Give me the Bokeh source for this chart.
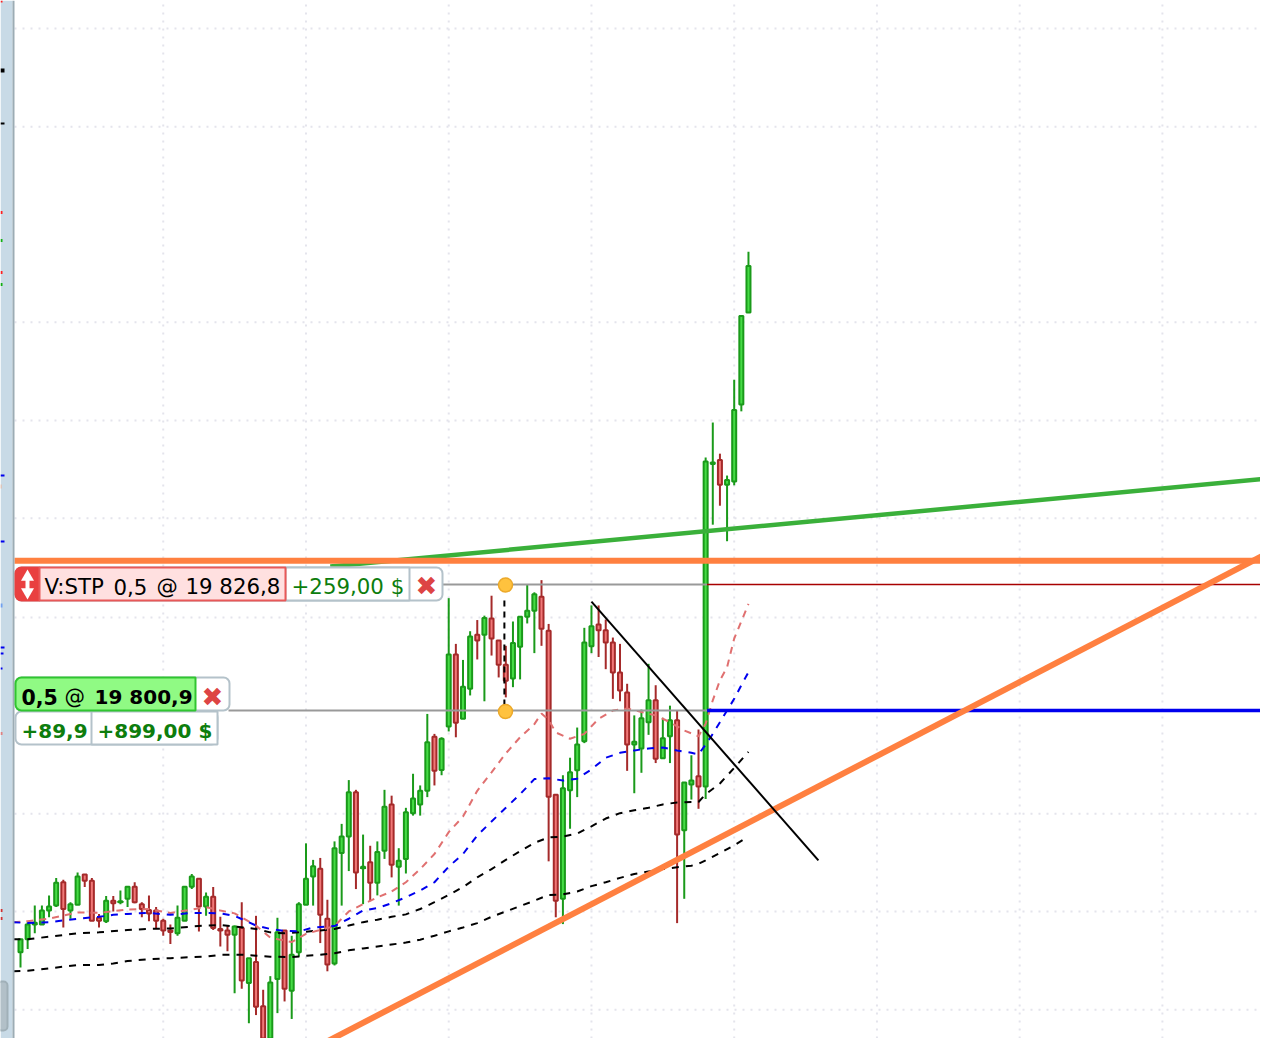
from bokeh.plotting import figure
from bokeh.models import Range1d, BoxAnnotation, Label
from bokeh.embed import file_html
from bokeh.resources import INLINE

# ---------- candles: bar number 0..102, prices ----------
opens = [19751.2,19753.9,19756.9,19756.9,19759.8,19760.8,19765.6,19759.8,19761.0,19767.2,
         19765.9,19758.3,19757.6,19761.8,19761.5,19762.2,19764.7,19761.1,19759.9,19759.8,
         19757.7,19755.7,19755.1,19757.7,19764.7,19766.3,19760.6,19762.6,19756.0,19755.7,
         19754.8,19756.2,19744.9,19749.2,19740.1,19733.1,19745.7,19755.7,19743.3,19751.2,
         19761.0,19766.8,19768.4,19758.1,19748.9,19771.6,19775.0,19784.1,19768.5,19769.7,
         19765.5,19772.1,19781.6,19768.8,19770.4,19779.8,19781.6,19784.4,19795.5,19788.7,
         19797.6,19812.4,19799.2,19805.4,19816.5,19816.5,19819.8,19815.3,19810.3,19807.5,
         19814.0,19820.2,19821.4,19824.3,19817.3,19783.6,19762.2,19784.5,19788.6,19794.6,
         19814.1,19818.6,19817.4,19814.9,19808.7,19804.6,19793.9,19793.1,19798.5,19803.0,
         19791.1,19795.6,19798.9,19776.3,19785.7,19787.4,19785.3,19851.6,19852.4,19847.3,
         19848.0,19863.8,19882.7]
highs = [19753.9,19757.4,19760.8,19760.8,19762.9,19766.5,19766.1,19761.5,19767.6,19767.2,
         19766.5,19759.1,19762.8,19762.8,19763.9,19764.7,19765.6,19761.5,19762.9,19760.5,
         19758.1,19756.9,19760.8,19764.7,19767.3,19766.3,19763.5,19764.6,19758.5,19756.7,
         19756.7,19761.5,19750.0,19758.7,19743.5,19746.3,19758.3,19755.7,19754.6,19761.5,
         19773.6,19770.2,19770.6,19762.0,19774.0,19777.6,19786.6,19784.6,19775.4,19773.1,
         19774.0,19784.6,19783.4,19772.6,19780.9,19787.9,19785.5,19800.2,19796.1,19795.4,
         19824.0,19814.6,19811.3,19817.2,19819.5,19820.4,19824.5,19815.3,19814.2,19819.2,
         19820.2,19826.9,19825.2,19827.7,19818.7,19783.6,19787.6,19791.2,19797.4,19817.9,
         19822.5,19822.5,19819.6,19815.9,19814.6,19806.4,19799.9,19801.1,19810.5,19806.1,
         19799.4,19801.9,19800.9,19786.1,19791.7,19797.0,19852.9,19860.1,19853.7,19849.2,
         19868.9,19882.0,19895.2]
lows = [19748.1,19751.9,19755.1,19756.9,19758.4,19760.5,19756.3,19758.1,19761.0,19764.6,
        19757.7,19756.3,19757.2,19759.6,19761.1,19760.5,19761.3,19758.4,19757.6,19756.0,
        19754.6,19752.9,19754.6,19757.7,19764.2,19755.5,19758.7,19755.8,19752.4,19751.4,
        19742.8,19743.7,19736.6,19738.3,19731.0,19731.0,19738.7,19741.1,19737.5,19750.3,
        19761.0,19760.8,19753.1,19747.3,19748.5,19760.8,19767.9,19764.2,19761.1,19761.7,
        19762.9,19770.4,19766.6,19760.8,19767.4,19779.3,19779.3,19783.1,19785.5,19787.6,
        19796.6,19795.4,19799.2,19804.0,19811.4,19802.8,19812.2,19807.7,19803.6,19805.7,
        19807.3,19818.8,19812.7,19814.2,19769.9,19758.4,19757.0,19776.6,19783.1,19794.2,
        19812.7,19811.9,19809.4,19803.3,19802.8,19788.5,19783.9,19788.1,19795.9,19790.1,
        19791.0,19790.1,19757.2,19762.2,19782.6,19780.7,19782.7,19839.1,19843.0,19835.7,
        19847.2,19862.4,19882.7]
closes = [19753.9,19756.9,19757.3,19759.8,19760.6,19765.5,19760.1,19761.1,19766.8,19765.9,
          19757.7,19757.7,19761.8,19761.3,19761.7,19764.7,19761.5,19760.1,19759.2,19757.7,
          19755.7,19755.4,19758.3,19764.7,19766.8,19760.6,19762.6,19756.2,19755.7,19754.8,
          19756.5,19745.4,19750.0,19740.0,19733.4,19745.0,19755.3,19743.7,19750.7,19761.1,
          19766.3,19768.9,19758.9,19748.7,19772.6,19775.0,19784.1,19767.6,19768.8,19765.5,
          19771.8,19781.1,19769.2,19770.0,19780.0,19782.8,19784.4,19794.4,19788.5,19795.1,
          19812.4,19798.4,19805.8,19816.1,19815.3,19819.9,19815.7,19810.3,19807.0,19814.8,
          19820.2,19821.4,19824.8,19817.7,19783.2,19761.8,19784.9,19788.2,19793.9,19814.9,
          19818.2,19817.4,19814.9,19808.7,19805.0,19793.9,19794.5,19799.3,19803.0,19791.0,
          19795.2,19798.9,19775.4,19786.1,19786.5,19785.3,19852.1,19851.9,19847.3,19848.3,
          19862.7,19882.0,19892.3]

# ---------- moving averages: bar number and price at that bar ----------
ma_red_bars = [-1,1,4,8,11,15,18,21,24,26,28,30,33,35,38,40,42,44,46,48,50,52,54,56,58,60,62,64,66,68,70,72,73,74,75,77,79,81,83,85,87,89,91,93,95,96,97,98,99,100,102]
ma_red = [19757.4,19757.6,19758.1,19759.4,19759.3,19760.0,19760.1,19759.3,19760.0,19760.5,19759.8,19759.2,19756.7,19754.2,19753.3,19755.0,19755.8,19756.6,19759.6,19761.1,19762.5,19763.7,19765.6,19768.3,19771.4,19775.9,19779.1,19784.4,19788.2,19792.1,19795.4,19798.1,19800.3,19799.0,19796.4,19795.1,19796.1,19799.2,19800.9,19801.3,19800.6,19799.9,19798.5,19796.8,19795.6,19798.2,19803.0,19807.1,19809.8,19815.7,19822.8]
ma_blue_bars = [-1,1,4,8,11,13,15,18,21,24,26,28,30,33,35,37,39,41,44,46,48,50,52,54,56,58,60,62,64,66,68,70,72,74,76,78,80,82,84,86,88,90,92,94,95,96,97,98,99,100,101,102]
ma_blue = [19757.4,19757.2,19757.4,19758.1,19758.5,19758.9,19759.1,19759.3,19758.9,19759.3,19759.3,19759.2,19758.7,19756.7,19756.0,19755.6,19755.5,19756.3,19756.6,19758.1,19759.8,19760.3,19761.3,19762.5,19763.9,19765.6,19768.8,19771.4,19775.2,19778.1,19780.9,19783.7,19786.8,19787.0,19786.5,19786.9,19788.8,19791.2,19792.2,19792.7,19793.1,19793.3,19792.7,19792.2,19791.9,19793.9,19796.1,19798.5,19800.9,19803.3,19806.1,19808.8]
ma_black1_bars = [-1,1,4,8,11,15,18,21,24,26,28,30,33,35,37,39,42,44,46,48,50,52,54,56,58,60,62,64,66,68,70,72,74,76,78,80,82,84,86,88,90,92,94,95,96,98,100,102]
ma_black1 = [19753.9,19753.9,19754.4,19755.1,19755.3,19755.8,19756.0,19756.1,19756.5,19756.7,19756.8,19756.5,19756.0,19755.3,19755.1,19755.3,19755.7,19756.0,19756.7,19757.4,19757.9,19758.5,19759.0,19760.1,19761.5,19763.0,19764.6,19766.6,19768.3,19770.2,19772.0,19773.7,19774.8,19775.0,19775.6,19777.1,19778.7,19779.8,19780.4,19780.9,19781.6,19782.0,19782.1,19782.1,19783.7,19785.9,19789.1,19792.4]
ma_black2_bars = [-1,1,4,8,11,13,15,18,21,24,26,28,31,33,35,38,40,42,44,46,48,50,52,54,56,58,60,62,64,66,68,70,72,74,76,78,80,82,84,86,88,90,92,94,95,96,98,100,102]
ma_black2 = [19747.3,19747.4,19747.9,19748.6,19748.6,19748.9,19749.4,19749.8,19750.0,19750.2,19750.3,19750.7,19750.7,19750.5,19750.3,19750.2,19750.5,19750.7,19751.0,19751.6,19752.0,19752.4,19752.8,19753.2,19753.8,19754.6,19755.5,19756.3,19757.2,19758.5,19759.6,19760.7,19761.8,19763.0,19763.1,19763.7,19764.8,19765.6,19766.5,19767.3,19767.8,19768.3,19768.7,19769.0,19769.4,19770.1,19771.6,19773.2,19775.0]

# ---------- grid ----------
grid_prices = [19941.1,19920.9,19880.7,19860.5,19840.4,19820.0,19779.7,19759.6,19739.4]
grid_bars = [20,40,60,80,100,120,140,160]

# ---------- drawn levels and trend lines (bar, price) ----------
stop_price = 19826.8
entry_price = 19800.9
orange_level = 19831.7
green_bars, green_prices = [43.4,174.9], [19830.5,19848.6]
orange_bars, orange_prices = [40.9,175.2], [19731.3,19833.6]
black_bars, black_prices = [80.0,111.8], [19823.3,19770.1]
level_start, last_bar = 96.2, 175.0
anchor_bar = 67.8

# ---------- pixel frame of the reference ----------
W, H = 1260, 1038
BAR0_PX, BAR_PX = 20.0, 7.137
PRICE_AT_TOP, PT_PER_PX = 19946.85, 25.9 / 126.0
X0 = (0 - BAR0_PX) / BAR_PX
X1 = (W - BAR0_PX) / BAR_PX
Y1 = PRICE_AT_TOP
Y0 = PRICE_AT_TOP - H * PT_PER_PX

def fx(px):
    return (px - BAR0_PX) / BAR_PX

def fy(py):
    return PRICE_AT_TOP - py * PT_PER_PX

p = figure(width=W, height=H, x_range=Range1d(X0, X1), y_range=Range1d(Y0, Y1),
           x_axis_type=None, y_axis_type=None, toolbar_location=None,
           output_backend="svg", min_border=0, outline_line_color=None,
           background_fill_color="white", border_fill_color="white")
p.xgrid.visible = False
p.ygrid.visible = False

GRID = "#e4e4ec"
p.segment(x0=[fx(14)] * len(grid_prices), x1=[X1] * len(grid_prices), y0=grid_prices, y1=grid_prices,
          line_color=GRID, line_width=2, line_dash="2 6")
p.segment(x0=grid_bars, x1=grid_bars, y0=[Y0] * len(grid_bars), y1=[Y1] * len(grid_bars),
          line_color=GRID, line_width=2, line_dash="2 6")

# candles
bars = list(range(len(opens)))
up = [c >= o for o, c in zip(opens, closes)]
edge = ["#1a9a1a" if u else "#a52a2a" for u in up]
fill = ["#46dc46" if u else "#f07878" for u in up]
p.segment(x0=bars, x1=bars, y0=lows, y1=highs, line_color=edge, line_width=2)
p.vbar(x=bars, width=4.0 / BAR_PX, bottom=[min(o, c) for o, c in zip(opens, closes)],
       top=[max(o, c) for o, c in zip(opens, closes)], fill_color=fill, line_color=edge, line_width=2)

# moving averages
p.line(ma_black2_bars, ma_black2, line_color="black", line_width=2, line_dash="7 7")
p.line(ma_black1_bars, ma_black1, line_color="black", line_width=2, line_dash="7 7")
p.line(ma_red_bars, ma_red, line_color="#e07070", line_width=2, line_dash="7 6")
p.line(ma_blue_bars, ma_blue, line_color="#0000ee", line_width=2, line_dash="7 7")

# order lines
p.segment(x0=[fx(442)], x1=[level_start], y0=[stop_price], y1=[stop_price], line_color="#999999", line_width=2)
p.segment(x0=[fx(228)], x1=[level_start], y0=[entry_price], y1=[entry_price], line_color="#999999", line_width=2)
p.segment(x0=[level_start], x1=[last_bar], y0=[stop_price], y1=[stop_price], line_color="#a80000", line_width=1.5)
p.segment(x0=[level_start], x1=[last_bar], y0=[entry_price], y1=[entry_price], line_color="#0000ee", line_width=3.5)

# drawings
p.line(green_bars, green_prices, line_color="#3ab03a", line_width=4.5)
p.line(orange_bars, orange_prices, line_color="#ff8040", line_width=6)
p.segment(x0=[fx(14)], x1=[last_bar], y0=[orange_level], y1=[orange_level], line_color="#ff8040", line_width=6)
p.line(black_bars, black_prices, line_color="black", line_width=2)
p.segment(x0=[anchor_bar], x1=[anchor_bar], y0=[fy(705)], y1=[fy(597)], line_color="black", line_width=2, line_dash="6 5")
p.scatter(x=[fx(505)] * 2, y=[fy(584.5), fy(711)], size=14, marker="circle",
          fill_color="#ffc23e", line_color="#eca92a", line_width=1.5)

# left rail and the small marks on it
def rect(x0, y0, x1, y1, color):
    p.quad(left=fx(x0), right=fx(x1), top=fy(y0), bottom=fy(y1), fill_color=color, line_color=None)

rect(0, 0, 12, H, "#c8dae6")
rect(12, 0, 14, H, "#9cacb4")
for x1, y, h, c in [(2, 1, 2, "#ff2020"), (4, 70, 4, "#000000"), (4, 123, 2, "#000000"),
                    (2, 212, 3, "#ff2020"), (2, 240, 3, "#10b010"), (2, 272, 3, "#ff2020"),
                    (2, 284, 3, "#10b010"), (4, 475, 2, "#0000ee"), (1, 486, 4, "#f0b090"),
                    (4, 541, 2, "#0000ee"), (2, 605, 4, "#70a0f0"), (4, 647, 2, "#0000ee"),
                    (3, 653, 2, "#0000ee"), (2, 668, 2, "#0000ee"), (2, 733, 3, "#e08080"),
                    (2, 910, 3, "#d03030"), (2, 918, 3, "#d03030")]:
    rect(0, y - h / 2, x1, y + h / 2, c)

def box(x0, y0, x1, y1, fill_c, line_c, radius=0):
    p.add_layout(BoxAnnotation(left=fx(x0), right=fx(x1), top=fy(y0), bottom=fy(y1),
                               fill_color=fill_c, fill_alpha=1, line_color=line_c, line_alpha=1,
                               line_width=2, border_radius=radius))

def txt(x, y, s, color="#000000", size=21.3, style="normal", font="DejaVu Sans", align="left"):
    p.add_layout(Label(x=fx(x), y=fy(y), text=s, text_color=color, text_font_size=f"{size}px",
                       text_font_style=style, text_font=font, text_baseline="middle", text_align=align))

box(-3, 981, 7, 1030, "#b2c0c8", "#a0b0b8", 4)

EDGE = "#b4c2ca"
GREEN_TXT = "#0d7d0d"
# stop-order tag
box(15, 567, 442, 600, "white", EDGE, 6)
box(285, 567, 409, 600, "white", EDGE)
box(15, 567, 39, 600, "#e94040", "#e94040", {"top_left": 6, "bottom_left": 6})
box(39, 567, 285, 600, "#ffe0e0", "#e85858")
p.quad(left=fx(25), right=fx(29), top=fy(577), bottom=fy(592), fill_color="white", line_color=None, level="overlay")
p.scatter(x=[fx(27)], y=[fy(576.5)], size=13, marker="triangle", fill_color="white", line_color=None, level="overlay")
p.scatter(x=[fx(27)], y=[fy(591.5)], size=13, marker="inverted_triangle", fill_color="white", line_color=None, level="overlay")
txt(44, 586, "V:STP")
txt(113, 586, "0,5")
txt(156, 586, "@")
txt(185, 586, "19 826,8")
txt(291, 586, "+259,00 $", GREEN_TXT)
txt(426, 585, "\u2716", "#dd4444", 26, align="center")
# position tag
box(15, 677, 229, 710, "white", EDGE, 6)
box(15, 711, 217, 744, "white", EDGE, 6)
box(91, 711, 217, 744, "white", EDGE)
box(15, 677, 195, 710, "#90fa84", "#30c530", {"top_left": 6, "bottom_left": 6})
txt(21, 696, "0,5", style="bold", size=20.5)
txt(64, 696, "@", size=20.5)
txt(94, 696, "19 800,9", style="bold", size=20)
txt(212, 696, "\u2716", "#dd4444", 26, align="center")
txt(21, 730, "+89,9", GREEN_TXT, style="bold", size=20)
txt(97, 730, "+899,00 $", GREEN_TXT, style="bold", size=20)

open("out.html", "w").write(file_html(p, INLINE))
